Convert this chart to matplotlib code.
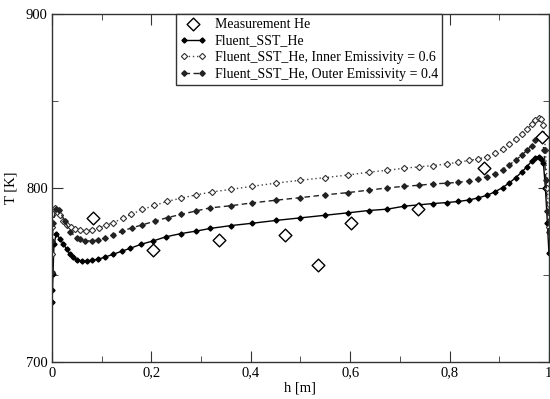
import matplotlib
matplotlib.use("Agg")
import matplotlib.pyplot as plt
from matplotlib.ticker import MultipleLocator, FuncFormatter

# measurement points
meas_h = [0.083, 0.203, 0.336, 0.469, 0.536, 0.602, 0.736, 0.869, 0.987]
meas_T = [783.2, 764.5, 770.2, 773.3, 755.9, 780.1, 788.0, 811.6, 829.4]

# Fluent_SST_He
sst_h = [0.0, 0.001, 0.002, 0.004, 0.009, 0.016, 0.023, 0.030, 0.036, 0.043,
         0.051, 0.060, 0.070, 0.080, 0.093, 0.107, 0.122, 0.140, 0.158, 0.180,
         0.204, 0.229, 0.260, 0.290, 0.318, 0.361, 0.403, 0.450, 0.500, 0.550,
         0.596, 0.637, 0.675, 0.709, 0.739, 0.767, 0.795, 0.818, 0.840, 0.858,
         0.876, 0.891, 0.907, 0.920, 0.933, 0.945, 0.956, 0.965, 0.973, 0.980,
         0.985, 0.989, 0.993, 0.997, 1.0]
sst_T = [734.7, 741.5, 750.7, 768.0, 774.0, 770.8, 767.9, 764.9, 762.2, 760.3,
         758.7, 758.2, 758.3, 758.6, 759.3, 760.5, 762.0, 763.8, 765.6, 767.9,
         769.8, 772.1, 774.0, 775.4, 776.9, 778.6, 779.9, 781.5, 783.0, 784.5,
         785.9, 787.2, 788.0, 789.7, 790.5, 791.2, 791.8, 792.4, 793.3, 794.5,
         796.0, 797.9, 800.4, 803.0, 806.0, 809.2, 812.4, 815.5, 817.6, 818.2,
         817.0, 814.2, 800.0, 780.0, 763.0]

# Inner Emissivity = 0.6
inner_h = [0.0, 0.001, 0.002, 0.006, 0.016, 0.023, 0.031, 0.038, 0.046, 0.056,
           0.068, 0.080, 0.095, 0.108, 0.123, 0.142, 0.160, 0.182, 0.206, 0.231,
           0.260, 0.290, 0.323, 0.361, 0.403, 0.450, 0.500, 0.550, 0.596, 0.637,
           0.675, 0.709, 0.739, 0.767, 0.795, 0.818, 0.840, 0.858, 0.876, 0.891,
           0.907, 0.920, 0.933, 0.945, 0.956, 0.965, 0.973, 0.980, 0.984, 0.989,
           0.993, 0.997, 1.0]
inner_T = [762.0, 778.0, 785.0, 788.9, 784.5, 781.3, 779.1, 777.8, 776.6, 775.9,
           775.7, 776.2, 777.2, 778.8, 780.1, 782.8, 785.1, 787.8, 790.1, 792.4,
           794.3, 796.2, 797.9, 799.4, 801.1, 802.9, 804.6, 806.1, 807.6, 809.2,
           810.3, 811.5, 812.3, 813.0, 814.0, 814.9, 816.0, 816.8, 818.2, 820.1,
           822.3, 825.1, 828.1, 831.0, 833.8, 836.7, 839.0, 840.5, 840.0, 836.0,
           822.0, 800.0, 778.0]

# Outer Emissivity = 0.4
outer_h = [0.0, 0.001, 0.002, 0.008, 0.014, 0.026, 0.036, 0.050, 0.056, 0.066,
           0.080, 0.093, 0.107, 0.123, 0.141, 0.161, 0.182, 0.207, 0.233, 0.260,
           0.290, 0.318, 0.361, 0.403, 0.450, 0.500, 0.550, 0.596, 0.637, 0.675,
           0.709, 0.739, 0.767, 0.795, 0.818, 0.840, 0.858, 0.876, 0.891, 0.907,
           0.920, 0.933, 0.945, 0.956, 0.965, 0.973, 0.980, 0.986, 0.990, 0.994,
           0.997, 1.0]
outer_T = [752.0, 770.0, 780.0, 788.3, 787.4, 781.3, 775.0, 771.7, 770.6, 769.8,
           769.8, 770.2, 771.5, 773.3, 775.4, 777.3, 779.0, 781.1, 783.2, 785.0,
           787.0, 788.7, 790.0, 791.6, 793.1, 794.6, 796.2, 797.5, 798.9, 800.2,
           801.1, 801.7, 802.5, 802.9, 803.4, 804.2, 805.3, 806.7, 808.4, 810.7,
           813.4, 816.0, 818.9, 821.8, 824.5, 827.5, 829.4, 828.3, 822.0, 805.0,
           787.0, 775.0]

plt.rcParams['font.family'] = ['Liberation Serif', 'DejaVu Serif']

fig = plt.figure(figsize=(5.5, 3.99), dpi=100)
ax = fig.add_axes([0.0945, 0.0915, 0.9035, 0.8735])

ax.plot(sst_h, sst_T, color='black', lw=1.0, marker='D', ms=2.6,
        mfc='black', mec='black', label='Fluent_SST_He')
ax.plot(inner_h, inner_T, color='#444444', lw=1.0, ls=(0, (1, 2)), marker='D',
        ms=3.2, mfc='white', mec='#333333', mew=0.8,
        label='Fluent_SST_He, Inner Emissivity = 0.6')
ax.plot(outer_h, outer_T, color='#222222', lw=1.0, ls=(0, (4, 2.5)), marker='D',
        ms=2.8, mfc='#222222', mec='#222222',
        label='Fluent_SST_He, Outer Emissivity = 0.4')
ax.scatter(meas_h, meas_T, marker='D', s=42, facecolors='white',
           edgecolors='black', linewidths=1.0, zorder=5, label='Measurement He')

ax.set_xlim(0, 1)
ax.set_ylim(700, 900)
ax.xaxis.set_major_locator(MultipleLocator(0.2))
ax.xaxis.set_minor_locator(MultipleLocator(0.1))
ax.yaxis.set_major_locator(MultipleLocator(100))
ax.yaxis.set_minor_locator(MultipleLocator(50))
ax.xaxis.set_major_formatter(FuncFormatter(lambda v, p: ('%g' % round(v, 2)).replace('.', ',')))
ax.tick_params(which='both', direction='in', top=True, right=True,
               labelsize=10.5, color='#333333', pad=3)
ax.tick_params(which='major', length=8)
ax.tick_params(which='minor', length=4)
for s in ax.spines.values():
    s.set_color('#333333')
    s.set_linewidth(1.0)

ax.set_xlabel('h [m]', fontsize=10.5, labelpad=1)
ax.set_ylabel('T [K]', fontsize=10.5, labelpad=6)

handles, labels = ax.get_legend_handles_labels()
order = [3, 0, 1, 2]
leg = ax.legend([handles[i] for i in order], [labels[i] for i in order],
                loc='upper left', bbox_to_anchor=(0.2495, 1.0), fontsize=10,
                frameon=True, fancybox=False, framealpha=1, edgecolor='#333333',
                handlelength=1.9, handletextpad=0.6, borderpad=0.3,
                labelspacing=0.25, numpoints=2, scatterpoints=1, borderaxespad=0)
leg.get_frame().set_linewidth(1.0)

fig.savefig('out.png', dpi=100)
